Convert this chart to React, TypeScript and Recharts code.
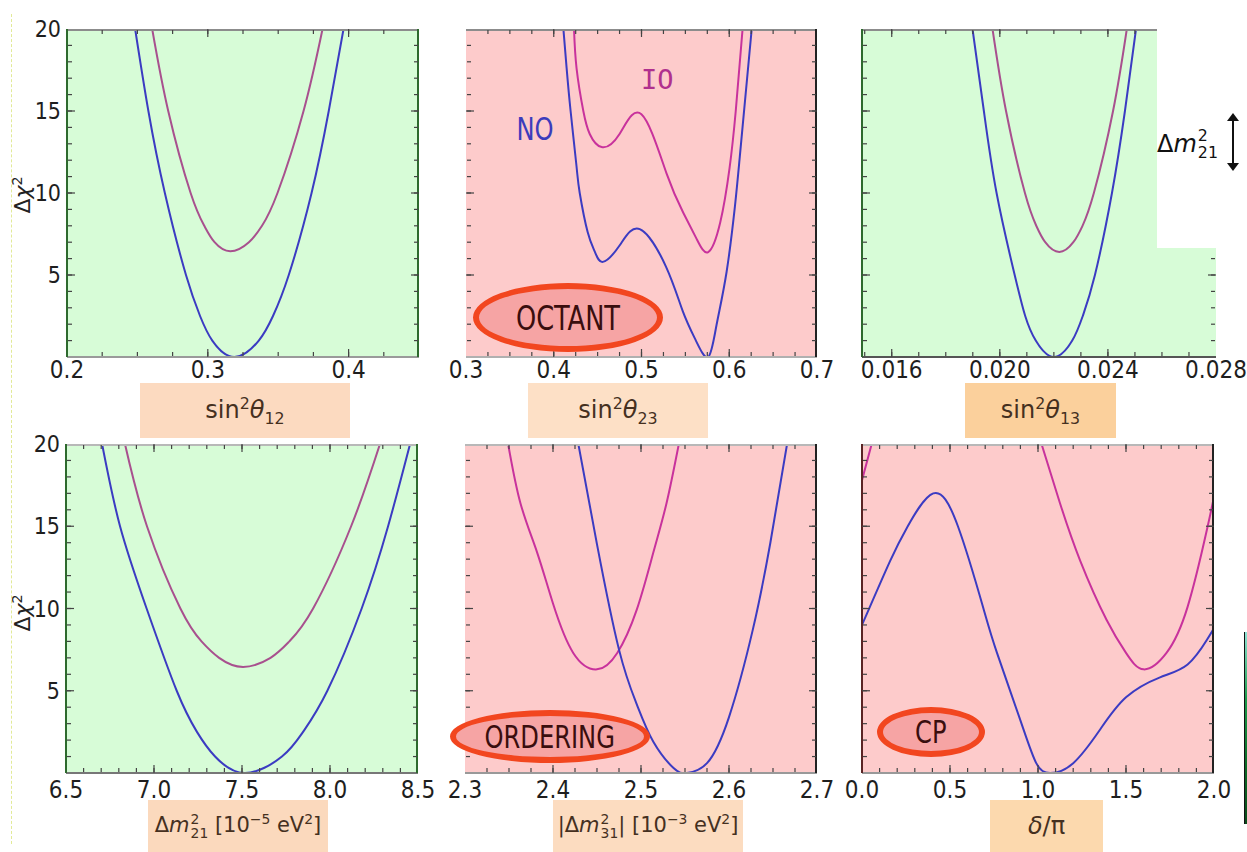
import type { FC, ReactNode } from 'react';
import { LineChart, Line, XAxis, YAxis, CartesianGrid } from 'recharts';

type Pair = [number, number | null];

// values: [x, delta chi^2]
const s12NO: Pair[] = [
  [0.2484, 20], [0.2578, 15], [0.2695, 10], [0.2845, 5], [0.2945, 2.5], [0.3032, 1],
  [0.3189, 0], [0.3362, 1], [0.3463, 2.5], [0.3575, 5], [0.3737, 10], [0.3859, 15], [0.3964, 20],
];
const s12IO: Pair[] = [
  [0.2605, 20], [0.2719, 15], [0.2878, 10], [0.2975, 8], [0.3048, 7], [0.316, 6.45],
  [0.3292, 7], [0.3385, 8], [0.3495, 10], [0.368, 15], [0.3815, 20],
];

const s23NO: Pair[] = [
  [0.411, 20], [0.4147, 17.6], [0.4192, 15], [0.426, 11.6], [0.4296, 10], [0.4387, 7.6],
  [0.447, 6.4], [0.456, 5.8], [0.475, 6.8], [0.498, 7.8], [0.528, 5.5], [0.547, 2.8],
  [0.562, 1.0], [0.576, 0], [0.5855, 1.95], [0.597, 5.2], [0.6065, 9.2], [0.612, 12.2], [0.6256, 20],
];
const s23IO: Pair[] = [
  [0.4231, 20], [0.426, 17.6], [0.4337, 15], [0.441, 13.6], [0.4546, 12.8], [0.475, 13.6],
  [0.4999, 14.8], [0.5285, 11.2], [0.5476, 8.8], [0.5628, 7.2], [0.576, 6.4], [0.5897, 8.2],
  [0.6003, 11.5], [0.6074, 15], [0.6152, 20],
];

const s13NO: Pair[] = [
  [0.01899, 20], [0.01941, 15], [0.01988, 10], [0.02055, 5], [0.02094, 2.5], [0.02133, 1], [0.0220, 0],
  [0.02268, 1], [0.02307, 2.5], [0.02352, 5], [0.02415, 10], [0.02463, 15], [0.02504, 20],
];
const s13IO: Pair[] = [
  [0.01973, 20], [0.02023, 15], [0.02093, 10], [0.02135, 8], [0.02168, 7], [0.0222, 6.4],
  [0.02272, 7], [0.02306, 8], [0.02348, 10], [0.02419, 15], [0.0247, 20],
];

const dm21NO: Pair[] = [
  [6.705, 20], [6.807, 15], [6.958, 10], [7.129, 5], [7.244, 2.5], [7.347, 1], [7.517, 0],
  [7.727, 1], [7.847, 2.5], [7.985, 5], [8.18, 10], [8.33, 15], [8.455, 20],
];
const dm21IO: Pair[] = [
  [6.835, 20], [6.96, 15], [7.15, 10], [7.27, 8], [7.37, 7], [7.506, 6.45],
  [7.662, 7], [7.769, 8], [7.904, 10], [8.12, 15], [8.284, 20],
];

const dm31NO: Pair[] = [
  [2.4288, 20], [2.45, 13.9], [2.475, 7.5], [2.495, 4.2], [2.514, 1.9], [2.537, 0.3],
  [2.552, 0], [2.575, 0.6], [2.6, 3.4], [2.627, 8.7], [2.647, 14.0], [2.666, 20],
];
const dm31IO: Pair[] = [
  [2.349, 20], [2.363, 16.4], [2.382, 13.4], [2.4, 10.3], [2.423, 7.3], [2.45, 6.3],
  [2.473, 7.3], [2.495, 9.9], [2.514, 13.4], [2.529, 16.4], [2.543, 20],
];

const cpNO: Pair[] = [
  [0, 9.0], [0.16, 12.9], [0.26, 15.0], [0.405, 17.0], [0.545, 15.0], [0.69, 10.0],
  [0.767, 7.3], [0.9, 3.2], [0.99, 0.6], [1.07, 0], [1.2, 0.6], [1.35, 2.6],
  [1.5, 4.6], [1.69, 5.8], [1.85, 6.6], [1.96, 8.1], [2.0, 8.8],
];
const cpIO: Pair[] = [
  [0, 17.8], [0.055, 20], [0.5, null], [1.02, 20], [1.125, 16.4], [1.24, 12.9],
  [1.39, 9.3], [1.5, 7.3], [1.6, 6.3], [1.73, 7.3], [1.85, 10.1], [1.96, 14.8], [2.0, 16.8],
];

// ticks
const yLabelTicks = [5, 10, 15, 20];
const yMajor = [5, 10, 15];
const yMinor = [1, 2, 3, 4, 5, 6, 7, 8, 9, 10, 11, 12, 13, 14, 15, 16, 17, 18, 19];

const s12Labels = [0.2, 0.3, 0.4];
const s12Major = [0.3, 0.4];
const s12Minor = [0.225, 0.25, 0.275, 0.3, 0.325, 0.35, 0.375, 0.4, 0.425];

const s23Labels = [0.3, 0.4, 0.5, 0.6, 0.7];
const s23Major = [0.4, 0.5, 0.6];
const s23Minor = [0.325, 0.35, 0.375, 0.4, 0.425, 0.45, 0.475, 0.5, 0.525, 0.55, 0.575, 0.6, 0.625, 0.65, 0.675];

const s13Labels = [0.016, 0.02, 0.024, 0.028];
const s13Major = [0.016, 0.02, 0.024];
const s13Minor = [0.015, 0.016, 0.017, 0.018, 0.019, 0.02, 0.021, 0.022, 0.023, 0.024, 0.025, 0.026, 0.027];

const dm21Labels = [6.5, 7.0, 7.5, 8.0, 8.5];
const dm21Major = [7.0, 7.5, 8.0];
const dm21Minor = [6.6, 6.7, 6.8, 6.9, 7.0, 7.1, 7.2, 7.3, 7.4, 7.5, 7.6, 7.7, 7.8, 7.9, 8.0, 8.1, 8.2, 8.3, 8.4];

const dm31Labels = [2.3, 2.4, 2.5, 2.6, 2.7];
const dm31Major = [2.4, 2.5, 2.6];
const dm31Minor = [2.325, 2.35, 2.375, 2.4, 2.425, 2.45, 2.475, 2.5, 2.525, 2.55, 2.575, 2.6, 2.625, 2.65, 2.675];

const cpLabels = [0, 0.5, 1.0, 1.5, 2.0];
const cpMajor = [0.5, 1.0, 1.5];
const cpMinor = [0.1, 0.2, 0.3, 0.4, 0.5, 0.6, 0.7, 0.8, 0.9, 1.0, 1.1, 1.2, 1.3, 1.4, 1.5, 1.6, 1.7, 1.8, 1.9];

const GREEN = '#d7fcd7';
const PINK = '#fdcbcb';
const BLUE = '#3b3bc2';
const IO_SOFT = '#a8508e';
const IO_HOT = '#c8329c';
const axisFont = "'Liberation Sans Narrow', 'DejaVu Sans Condensed', 'Arial Narrow', sans-serif";

interface PanelCfg {
  x0: number; y0: number; w: number; h: number;
  domain: [number, number];
  labels: number[]; major: number[]; minor: number[]; digits: number;
  no: Pair[]; io: Pair[]; ioColor: string;
  bg: string; left: string | null; right: string | null; top: string; bottom: string;
  yLabels: boolean; labelGap: number;
}

const TOP_Y = 29, TOP_H = 328, BOT_Y = 444, BOT_H = 329;

const panels: PanelCfg[] = [
  { x0: 67, y0: TOP_Y, w: 352, h: TOP_H, domain: [0.2, 0.45], labels: s12Labels, major: s12Major, minor: s12Minor, digits: 1,
    no: s12NO, io: s12IO, ioColor: IO_SOFT, bg: GREEN, left: '#2e6a2e', right: '#2e6a2e', top: '#8c8c8c', bottom: '#9a9a9a', yLabels: true, labelGap: 4 },
  { x0: 466, y0: TOP_Y, w: 351, h: TOP_H, domain: [0.3, 0.7], labels: s23Labels, major: s23Major, minor: s23Minor, digits: 1,
    no: s23NO, io: s23IO, ioColor: IO_HOT, bg: PINK, left: null, right: '#222', top: '#8c8c8c', bottom: '#b0b0b0', yLabels: false, labelGap: 4 },
  { x0: 862, y0: TOP_Y, w: 354, h: TOP_H, domain: [0.0149, 0.028], labels: s13Labels, major: s13Major, minor: s13Minor, digits: 3,
    no: s13NO, io: s13IO, ioColor: IO_SOFT, bg: GREEN, left: '#2e6a2e', right: null, top: '#8c8c8c', bottom: '#555', yLabels: false, labelGap: 4 },
  { x0: 66, y0: BOT_Y, w: 352, h: BOT_H, domain: [6.5, 8.5], labels: dm21Labels, major: dm21Major, minor: dm21Minor, digits: 1,
    no: dm21NO, io: dm21IO, ioColor: IO_SOFT, bg: GREEN, left: '#2e6a2e', right: '#2e6a2e', top: '#b8b8b8', bottom: '#777', yLabels: true, labelGap: 8 },
  { x0: 465, y0: BOT_Y, w: 352, h: BOT_H, domain: [2.3, 2.7], labels: dm31Labels, major: dm31Major, minor: dm31Minor, digits: 1,
    no: dm31NO, io: dm31IO, ioColor: IO_HOT, bg: PINK, left: null, right: '#222', top: '#b8b8b8', bottom: '#999', yLabels: false, labelGap: 8 },
  { x0: 862, y0: BOT_Y, w: 352, h: BOT_H, domain: [0, 2], labels: cpLabels, major: cpMajor, minor: cpMinor, digits: 1,
    no: cpNO, io: cpIO, ioColor: IO_HOT, bg: PINK, left: '#5a2424', right: '#222', top: '#b8b8b8', bottom: '#999', yLabels: false, labelGap: 8 },
];

const toData = (pairs: Pair[]) => pairs.map(([x, y]) => ({ x, y }));

// tick marks only, no text
const NoLabel = () => <g />;

const Panel: FC<{ p: PanelCfg }> = ({ p }) => {
  const padL = 60, padR = 40, padT = 20, padB = 45;
  const tickColor = '#444';
  const xc = { type: 'number' as const, dataKey: 'x', domain: p.domain, allowDataOverflow: true, interval: 0 as const };
  const yc = { type: 'number' as const, domain: [0, 20], allowDataOverflow: true, interval: 0 as const };
  const font = { fill: '#1e1e1e', fontSize: 24, fontFamily: axisFont };
  const yFont = { fill: '#1e1e1e', fontSize: 23, fontFamily: axisFont };
  const marks = { stroke: tickColor, strokeWidth: 1.2 };
  return (
    <div style={{ position: 'absolute', left: p.x0 - padL, top: p.y0 - padT }}>
      <LineChart width={padL + p.w + padR} height={padT + p.h + padB} margin={{ top: padT, right: padR, left: 0, bottom: 0 }}>
        <CartesianGrid xAxisId="m" yAxisId="m" horizontal={false} vertical={false} fill={p.bg} fillOpacity={1} stroke="none" />
        <XAxis xAxisId="m" {...xc} height={padB} ticks={p.labels} tickSize={0} tickMargin={p.labelGap}
          tickFormatter={(v: number) => v.toFixed(p.digits)} tick={font} tickLine={false}
          axisLine={{ stroke: p.bottom, strokeWidth: 2 }} />
        <XAxis xAxisId="bmin" {...xc} orientation="bottom" mirror height={1} ticks={p.minor} tick={NoLabel}
          tickSize={4} axisLine={false} tickLine={marks} />
        <XAxis xAxisId="bmaj" {...xc} orientation="bottom" mirror height={1} ticks={p.major} tick={NoLabel}
          tickSize={8} axisLine={false} tickLine={marks} />
        <XAxis xAxisId="tmin" {...xc} orientation="top" mirror height={1} ticks={p.minor} tick={NoLabel}
          tickSize={4} axisLine={{ stroke: p.top, strokeWidth: 2 }} tickLine={marks} />
        <XAxis xAxisId="tmaj" {...xc} orientation="top" mirror height={1} ticks={p.major} tick={NoLabel}
          tickSize={8} axisLine={false} tickLine={marks} />
        <YAxis yAxisId="m" {...yc} width={padL} ticks={yLabelTicks} tick={p.yLabels ? yFont : false}
          tickSize={0} tickMargin={6} tickLine={false}
          axisLine={p.left ? { stroke: p.left, strokeWidth: 2 } : false} />
        <YAxis yAxisId="lmin" {...yc} mirror width={1} ticks={yMinor} tick={NoLabel} tickSize={4}
          axisLine={false} tickLine={marks} />
        <YAxis yAxisId="lmaj" {...yc} mirror width={1} ticks={yMajor} tick={NoLabel} tickSize={8}
          axisLine={false} tickLine={marks} />
        <YAxis yAxisId="rmin" {...yc} orientation="right" mirror width={1} ticks={yMinor} tick={NoLabel} tickSize={4}
          axisLine={p.right ? { stroke: p.right, strokeWidth: 2 } : false} tickLine={marks} />
        <YAxis yAxisId="rmaj" {...yc} orientation="right" mirror width={1} ticks={yMajor} tick={NoLabel} tickSize={8}
          axisLine={false} tickLine={marks} />
        <Line xAxisId="m" yAxisId="m" data={toData(p.io)} dataKey="y" type="natural" stroke={p.ioColor}
          strokeWidth={2} dot={false} connectNulls={false} isAnimationActive={false} />
        <Line xAxisId="m" yAxisId="m" data={toData(p.no)} dataKey="y" type="natural" stroke={BLUE}
          strokeWidth={2} dot={false} isAnimationActive={false} />
      </LineChart>
    </div>
  );
};

const SupSub: FC<{ sup: string; sub: string }> = ({ sup, sub }) => (
  <span style={{ display: 'inline-flex', flexDirection: 'column', verticalAlign: 'middle', fontSize: '0.66em', lineHeight: 1.05, marginLeft: 1 }}>
    <span>{sup}</span>
    <span>{sub}</span>
  </span>
);

const Box: FC<{ x: number; y: number; w: number; h: number; bg: string; size?: number; children: ReactNode }> = ({ x, y, w, h, bg, size = 24, children }) => (
  <div style={{
    position: 'absolute', left: x, top: y, width: w, height: h, background: bg, display: 'flex',
    alignItems: 'center', justifyContent: 'center', fontFamily: "'DejaVu Sans', sans-serif", fontSize: size,
    color: '#45301f', whiteSpace: 'nowrap',
  }}>
    <span>{children}</span>
  </div>
);

const Narrow: FC<{ children: ReactNode }> = ({ children }) => (
  <span style={{ display: 'inline-block', transform: 'scaleX(0.84)' }}>{children}</span>
);

const Oval: FC<{ x: number; y: number; w: number; h: number; text: string; size: number }> = ({ x, y, w, h, text, size }) => (
  <div style={{
    position: 'absolute', left: x, top: y, width: w, height: h, boxSizing: 'border-box', borderRadius: '50%',
    border: '6px solid #f2461f', background: '#f6a4a4', display: 'flex', alignItems: 'center', justifyContent: 'center',
    fontFamily: axisFont, fontSize: size, color: '#3a0e0e',
  }}>
    <Narrow>{text}</Narrow>
  </div>
);

const YTitle: FC<{ cy: number }> = ({ cy }) => (
  <div style={{
    position: 'absolute', left: 17 - 40, top: cy - 12, width: 80, height: 24, lineHeight: '24px', textAlign: 'center',
    transform: 'rotate(-90deg)', fontFamily: "'DejaVu Sans', sans-serif", fontSize: 22, color: '#222',
  }}>
    Δ<i>χ</i><sup style={{ fontSize: '0.65em' }}>2</sup>
  </div>
);

const sup = { fontSize: '0.66em' };
const sub = { fontSize: '0.66em' };

export default function App() {
  return (
    <div style={{ position: 'absolute', left: 0, top: 0, width: 1247, height: 852, background: '#fff', overflow: 'hidden', fontFamily: "'DejaVu Sans', sans-serif" }}>
      <div style={{ position: 'absolute', left: 11, top: 14, height: 830, borderLeft: '1px dashed #e2ea98' }} />
      {panels.map((p, i) => <Panel key={i} p={p} />)}

      {/* white patch over the top-right corner of the third panel */}
      <div style={{ position: 'absolute', left: 1157, top: 18, width: 90, height: 230, background: '#fff' }} />

      <YTitle cy={195} />
      <YTitle cy={613} />

      <Box x={140} y={383} w={210} h={55} bg="#fcdac0">sin<sup style={sup}>2</sup><i>θ</i><sub style={sub}>12</sub></Box>
      <Box x={528} y={383} w={180} h={55} bg="#fde0c6">sin<sup style={sup}>2</sup><i>θ</i><sub style={sub}>23</sub></Box>
      <Box x={965} y={383} w={151} h={55} bg="#fbd09c">sin<sup style={sup}>2</sup><i>θ</i><sub style={sub}>13</sub></Box>
      <Box x={148} y={800} w={180} h={52} bg="#fbd9bd" size={21}>Δ<i>m</i><SupSub sup="2" sub="21" /> [10<sup style={sup}>−5</sup> eV<sup style={sup}>2</sup>]</Box>
      <Box x={553} y={800} w={190} h={52} bg="#fcdcc0" size={21}>|Δ<i>m</i><SupSub sup="2" sub="31" />| [10<sup style={sup}>−3</sup> eV<sup style={sup}>2</sup>]</Box>
      <Box x={990} y={800} w={113} h={52} bg="#fcd9ae"><i>δ</i>/π</Box>

      <Oval x={473} y={283} w={190} h={69} text="OCTANT" size={34} />
      <Oval x={450} y={710} w={200} h={53} text="ORDERING" size={32} />
      <Oval x={877} y={707} w={108} h={50} text="CP" size={32} />

      <div style={{ position: 'absolute', left: 513, top: 110, fontFamily: axisFont, fontSize: 32, color: '#3c3cbc' }}><Narrow>NO</Narrow></div>
      <div style={{ position: 'absolute', left: 641, top: 64, fontFamily: "'DejaVu Sans Mono', monospace", fontSize: 27, color: '#b0308e' }}>IO</div>

      <div style={{ position: 'absolute', left: 1157, top: 128, fontFamily: "'DejaVu Sans', sans-serif", fontSize: 24, color: '#111' }}>
        Δ<i>m</i><SupSub sup="2" sub="21" />
      </div>
      <svg style={{ position: 'absolute', left: 1225, top: 112 }} width={16} height={60}>
        <line x1={8} y1={6} x2={8} y2={54} stroke="#111" strokeWidth={2} />
        <polygon points="2,9 8,1 14,9" fill="#111" />
        <polygon points="2,51 8,59 14,51" fill="#111" />
      </svg>

      <div style={{ position: 'absolute', left: 1244, top: 632, width: 3, height: 192, background: 'linear-gradient(to bottom, #8fe6d8, #1a9a4a 35%, #0b6a26 70%, #0a4a1a)', borderLeft: '1px solid #111' }} />
    </div>
  );
}
